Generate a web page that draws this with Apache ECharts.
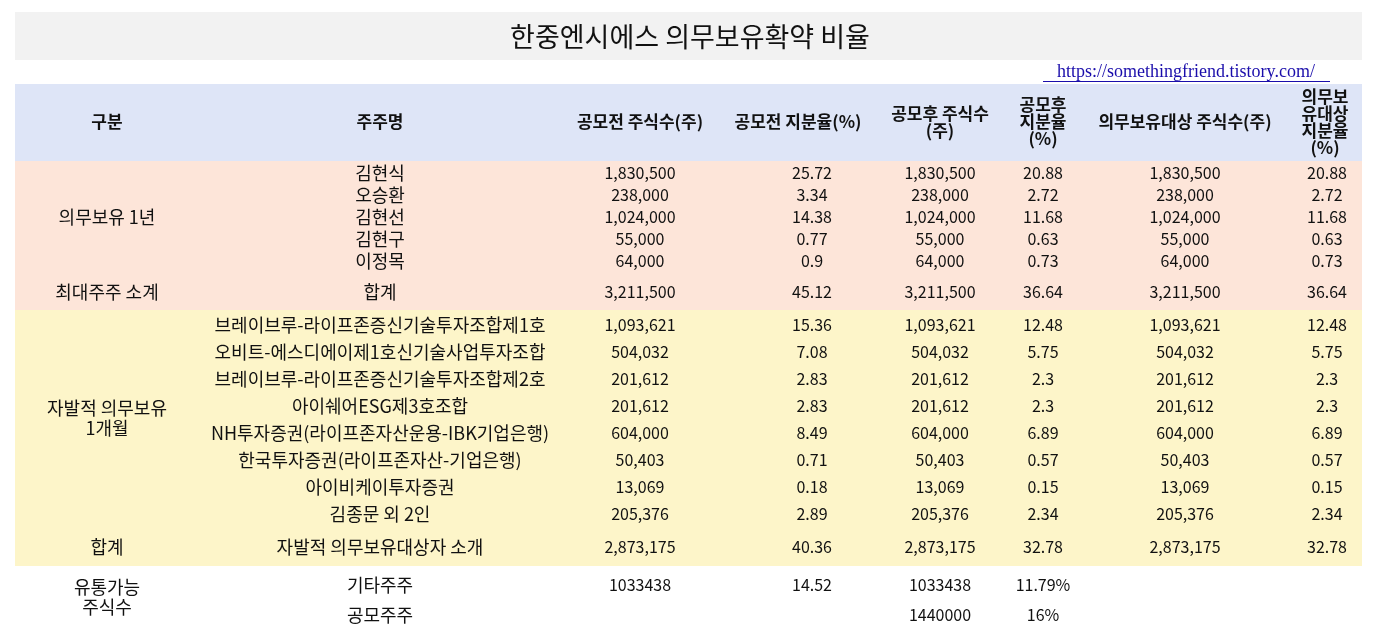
<!DOCTYPE html><html><head><meta charset="utf-8">
<script src="https://cdn.jsdelivr.net/npm/echarts@6/dist/echarts.min.js"></script>
<style>html,body{margin:0;padding:0;background:#fff}#c{width:1375px;height:638px}</style></head><body><div id="c"></div>
<script>
const titleText = '한중엔시에스 의무보유확약 비율';
const urlText = 'https://somethingfriend.tistory.com/';
const headers = ['구분','주주명','공모전 주식수(주)','공모전 지분율(%)','공모후 주식수\n(주)','공모후\n지분율\n(%)','의무보유대상 주식수(주)','의무보\n유대상\n지분율\n(%)'];
const group1Rows = [
 ['', '김현식','1,830,500','25.72','1,830,500','20.88','1,830,500','20.88'],
 ['', '오승환','238,000','3.34','238,000','2.72','238,000','2.72'],
 ['', '김현선','1,024,000','14.38','1,024,000','11.68','1,024,000','11.68'],
 ['', '김현구','55,000','0.77','55,000','0.63','55,000','0.63'],
 ['', '이정목','64,000','0.9','64,000','0.73','64,000','0.73'],
 ['최대주주 소계','합계','3,211,500','45.12','3,211,500','36.64','3,211,500','36.64']
];
const group2Rows = [
 ['', '브레이브루-라이프존증신기술투자조합제1호','1,093,621','15.36','1,093,621','12.48','1,093,621','12.48'],
 ['', '오비트-에스디에이제1호신기술사업투자조합','504,032','7.08','504,032','5.75','504,032','5.75'],
 ['', '브레이브루-라이프존증신기술투자조합제2호','201,612','2.83','201,612','2.3','201,612','2.3'],
 ['', '아이쉐어ESG제3호조합','201,612','2.83','201,612','2.3','201,612','2.3'],
 ['', 'NH투자증권(라이프존자산운용-IBK기업은행)','604,000','8.49','604,000','6.89','604,000','6.89'],
 ['', '한국투자증권(라이프존자산-기업은행)','50,403','0.71','50,403','0.57','50,403','0.57'],
 ['', '아이비케이투자증권','13,069','0.18','13,069','0.15','13,069','0.15'],
 ['', '김종문 외 2인','205,376','2.89','205,376','2.34','205,376','2.34'],
 ['합계','자발적 의무보유대상자 소개','2,873,175','40.36','2,873,175','32.78','2,873,175','32.78']
];
const group3Rows = [
 ['', '기타주주','1033438','14.52','1033438','11.79%','',''],
 ['', '공모주주','','','1440000','16%','','']
];
const mergedLabels = ['의무보유 1년','자발적 의무보유\n1개월','유통가능\n주식수'];

// layout
const colX = [107,380,640,812,940,1043,1185,1327];
const headX = [107,380,640,798,940,1043,1185,1325];
const g1Y = [173,195,217,239,261,292];
const g2Y = [325,352,379,406,433,460,487,514,547];
const g3Y = [585,615];
const mergedY = [217,418,597];
const F = '"Noto Sans CJK KR","Noto Sans",sans-serif';
const els = [];
const rect=(x,y,w,h,c)=>els.push({type:'rect',shape:{x,y,width:w,height:h},style:{fill:c},silent:true});
const hasKo=t=>/[\uac00-\ud7a3]/.test(t);
const txt=(x,y,t,o={})=>els.push({type:'text',x,y,style:Object.assign({text:t,font:(hasKo(t)?'18px ':'16px ')+F,fill:'#111',align:'center',verticalAlign:'middle',lineHeight:20},o),silent:true});
rect(15,12,1347,48,'#f2f2f2');
rect(15,84,1347,77,'#dee5f7');
rect(15,161,1347,149,'#fde5d9');
rect(15,310,1347,256,'#fdf5c9');
txt(690,37,titleText,{font:'27px '+F});
txt(1186,72,urlText,{font:'18px "Liberation Serif",serif',fill:'#1a0dab'});
els.push({type:'rect',shape:{x:1043,y:81,width:287,height:1},style:{fill:'#1a0dab'},silent:true});
headers.forEach((h,i)=>txt(headX[i],122,h,{font:'bold 17px '+F,lineHeight:17}));
const drawRows=(rows,ys)=>rows.forEach((r,ri)=>r.forEach((v,ci)=>{if(v)txt(colX[ci],ys[ri],v);}));
drawRows(group1Rows,g1Y);drawRows(group2Rows,g2Y);drawRows(group3Rows,g3Y);
mergedLabels.forEach((m,i)=>txt(colX[0],mergedY[i],m,{lineHeight:20}));
const chart=echarts.init(document.getElementById('c'));
chart.setOption({animation:false,graphic:els});
</script></body></html>
